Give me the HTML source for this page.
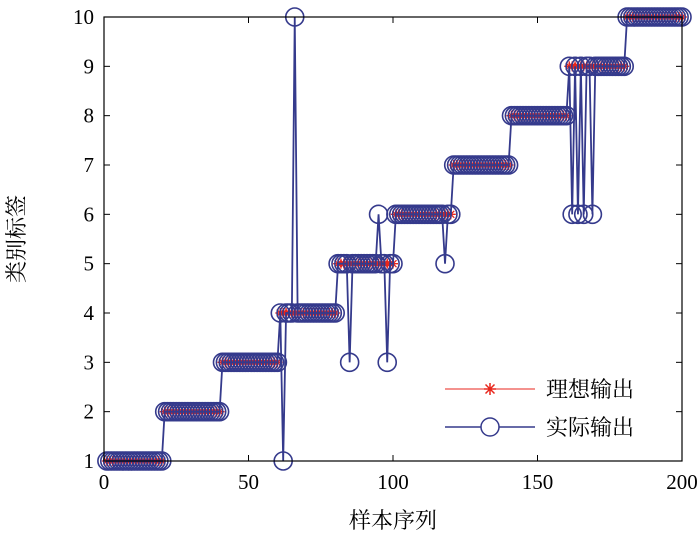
<!DOCTYPE html>
<html><head><meta charset="utf-8"><style>
body{margin:0;background:#fff;}
svg text{font-family:"Liberation Serif","Noto Serif CJK SC",serif;fill:#000;}
</style></head><body>
<svg id="c" width="700" height="540" xmlns="http://www.w3.org/2000/svg">
<g id="plot"></g>
</svg>
<script>
const xTicks=[0,50,100,150,200];
const yTicks=[1,2,3,4,5,6,7,8,9,10];
const errIdx=[62,66,85,95,98,118,162,164,166,169];
const errVal=[1,10,3,6,3,5,6,6,6,6];
const N=200;
const ideal=[];for(let i=1;i<=N;i++)ideal.push(Math.ceil(i/20));
const actual=ideal.slice();errIdx.forEach((k,j)=>{actual[k-1]=errVal[j];});
const L=104,R=682,T=17,B=461;
const X=v=>L+(v-0)/(200-0)*(R-L);
const Y=v=>B-(v-1)/(10-1)*(B-T);
const ns="http://www.w3.org/2000/svg";
const g=document.getElementById('plot');
function mk(t,a,p){const e=document.createElementNS(ns,t);for(const k in a)e.setAttribute(k,a[k]);(p||g).appendChild(e);return e;}
let d=ideal.map((v,i)=>(i?'L':'M')+X(i+1)+','+Y(v)).join('');
let e=mk('path',{d:d,fill:'none',stroke:'#e8261c','stroke-width':1});

ideal.forEach((v,i)=>{const x=X(i+1),y=Y(v);
 const s=mk('path',{d:`M${x-5},${y}H${x+5}M${x},${y-5}V${y+5}M${x-3.5},${y-3.5}L${x+3.5},${y+3.5}M${x-3.5},${y+3.5}L${x+3.5},${y-3.5}`,stroke:'#e8261c','stroke-width':1.3});
 });
d=actual.map((v,i)=>(i?'L':'M')+X(i+1)+','+Y(v)).join('');
e=mk('path',{d:d,fill:'none',stroke:'#353a8c','stroke-width':1.8});

actual.forEach((v,i)=>{const c=mk('circle',{cx:X(i+1),cy:Y(v),r:9,fill:'none',stroke:'#353a8c','stroke-width':1.6});
 });
e=mk('rect',{x:L,y:T,width:R-L,height:B-T,fill:'none',stroke:'#000','stroke-width':1.2});

xTicks.forEach(t=>{const x=X(t);mk('line',{x1:x,x2:x,y1:B,y2:B-6,stroke:'#000'});mk('line',{x1:x,x2:x,y1:T,y2:T+6,stroke:'#000'});
 const tx=mk('text',{x:x,y:B+28,'text-anchor':'middle','font-size':21});tx.textContent=t;
 });
yTicks.forEach(t=>{const y=Y(t);mk('line',{x1:L,x2:L+6,y1:y,y2:y,stroke:'#000'});mk('line',{x1:R,x2:R-6,y1:y,y2:y,stroke:'#000'});
 const tx=mk('text',{x:L-10,y:y+7,'text-anchor':'end','font-size':21});tx.textContent=t;
 });
e=mk('text',{x:393,y:528,'text-anchor':'middle','font-size':22});e.textContent='样本序列';

e=mk('text',{x:0,y:0,'text-anchor':'middle','font-size':22,transform:'translate(24,239) rotate(-90)'});e.textContent='类别标签';

const lg=mk('g',{});
mk('line',{x1:445,x2:535,y1:389,y2:389,stroke:'#e8261c'},lg);
mk('path',{d:'M484,389H496M490,383V395M485.5,384.5L494.5,393.5M485.5,393.5L494.5,384.5',stroke:'#e8261c','stroke-width':1.5},lg);
let t1=mk('text',{x:546,y:397,'font-size':22},lg);t1.textContent='理想输出';

mk('line',{x1:445,x2:535,y1:427,y2:427,stroke:'#353a8c','stroke-width':1.5},lg);
mk('circle',{cx:490,cy:427,r:9,fill:'#fff',stroke:'#353a8c','stroke-width':1.5},lg);
let t2=mk('text',{x:546,y:435,'font-size':22},lg);t2.textContent='实际输出';

</script>
</body></html>
